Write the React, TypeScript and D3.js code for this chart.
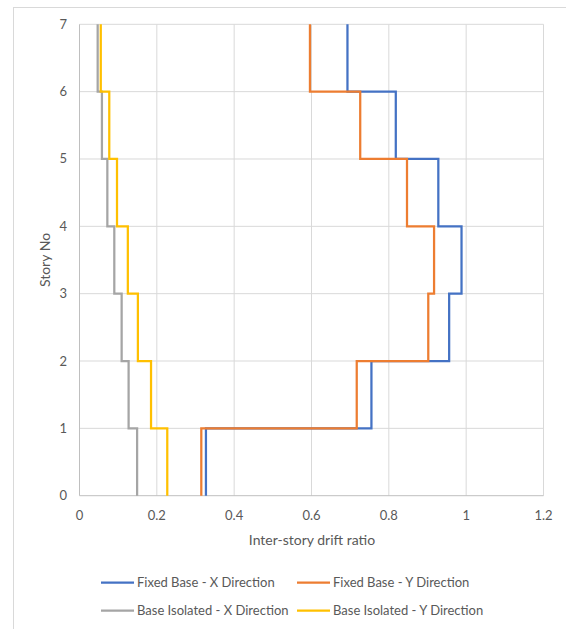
import { useEffect, useRef } from 'react';
import * as d3 from 'd3';

// drift ratio per story segment (story i -> i+1)
const stories = [0, 1, 2, 3, 4, 5, 6, 7];
const xTicks = [0, 0.2, 0.4, 0.6, 0.8, 1, 1.2];
const fixedX = [0.327, 0.755, 0.956, 0.988, 0.928, 0.818, 0.693];
const fixedY = [0.315, 0.717, 0.902, 0.917, 0.847, 0.726, 0.596];
const isoX = [0.149, 0.127, 0.109, 0.090, 0.072, 0.058, 0.047];
const isoY = [0.227, 0.185, 0.151, 0.125, 0.097, 0.077, 0.055];

const seriesNames = [
  'Fixed Base - X Direction',
  'Fixed Base - Y Direction',
  'Base Isolated - X Direction',
  'Base Isolated - Y Direction',
];
const seriesColors = ['#4472C4', '#ED7D31', '#A5A5A5', '#FFC000'];
const seriesValues = [fixedX, fixedY, isoX, isoY];

const W = 566;
const H = 629;
const FONT = 'Lato, "Open Sans", "Liberation Sans", sans-serif';

const App = () => {
  const svgRef = useRef<SVGSVGElement>(null);

  useEffect(() => {
    if (!svgRef.current) return;
    const svg = d3.select(svgRef.current);
    svg.selectAll('*').remove();

    // chart border
    svg.append('rect')
      .attr('x', 13.5).attr('y', 7.5)
      .attr('width', 600).attr('height', 700)
      .attr('fill', 'white')
      .attr('stroke', '#d9d9d9');

    const x = d3.scaleLinear().domain([0, 1.2]).range([79.5, 543.5]);
    const y = d3.scaleLinear().domain([0, 7]).range([495.7, 24.3]);

    // gridlines
    svg.append('g').selectAll('line.vg')
      .data(xTicks.slice(1))
      .enter().append('line')
      .attr('x1', d => x(d)).attr('x2', d => x(d))
      .attr('y1', y(0)).attr('y2', y(7))
      .attr('stroke', '#d9d9d9').attr('stroke-width', 1);

    svg.append('g').selectAll('line.hg')
      .data(stories.slice(1))
      .enter().append('line')
      .attr('x1', x(0)).attr('x2', x(1.2))
      .attr('y1', d => y(d)).attr('y2', d => y(d))
      .attr('stroke', '#d9d9d9').attr('stroke-width', 1);

    // axis lines
    svg.append('line')
      .attr('x1', x(0)).attr('x2', x(1.2))
      .attr('y1', y(0)).attr('y2', y(0))
      .attr('stroke', '#bfbfbf');
    svg.append('line')
      .attr('x1', x(0)).attr('x2', x(0))
      .attr('y1', y(0)).attr('y2', y(7))
      .attr('stroke', '#bfbfbf');

    // tick labels
    svg.append('g').selectAll('text')
      .data(xTicks)
      .enter().append('text')
      .attr('x', d => x(d))
      .attr('y', 520)
      .attr('text-anchor', 'middle')
      .attr('font-family', FONT)
      .attr('font-size', 13)
      .attr('fill', '#595959')
      .text(d => String(d));

    svg.append('g').selectAll('text')
      .data(stories)
      .enter().append('text')
      .attr('x', 67)
      .attr('y', d => y(d) + 4.5)
      .attr('text-anchor', 'end')
      .attr('font-family', FONT)
      .attr('font-size', 13)
      .attr('fill', '#595959')
      .text(d => String(d));

    // axis titles
    svg.append('text')
      .attr('x', 312).attr('y', 545)
      .attr('text-anchor', 'middle')
      .attr('font-family', FONT)
      .attr('font-size', 14)
      .attr('fill', '#595959')
      .text('Inter-story drift ratio');

    svg.append('text')
      .attr('transform', `translate(50,${260}) rotate(-90)`)
      .attr('text-anchor', 'middle')
      .attr('font-family', FONT)
      .attr('font-size', 14)
      .attr('fill', '#595959')
      .text('Story No');

    // step lines
    const line = d3.line<[number, number]>()
      .x(d => x(d[0]))
      .y(d => y(d[1]));

    seriesValues.forEach((vals, i) => {
      const pts: [number, number][] = [];
      vals.forEach((v, s) => {
        pts.push([v, stories[s]]);
        pts.push([v, stories[s + 1]]);
      });
      svg.append('path')
        .datum(pts)
        .attr('d', line)
        .attr('fill', 'none')
        .attr('stroke', seriesColors[i])
        .attr('stroke-width', 2.25)
        .attr('stroke-linejoin', 'miter');
    });

    // legend
    const legendPos = [
      [101, 582.5], [297, 582.5],
      [101, 610.5], [297, 610.5],
    ];
    seriesNames.forEach((name, i) => {
      const [lx, ly] = legendPos[i];
      svg.append('line')
        .attr('x1', lx).attr('x2', lx + 33)
        .attr('y1', ly).attr('y2', ly)
        .attr('stroke', seriesColors[i])
        .attr('stroke-width', 2.25);
      svg.append('text')
        .attr('x', lx + 36).attr('y', ly + 4.5)
        .attr('font-family', FONT)
        .attr('font-size', 13)
        .attr('fill', '#595959')
        .text(name);
    });
  }, []);

  return (
    <svg
      ref={svgRef}
      width={W}
      height={H}
      style={{ position: 'absolute', left: 0, top: 0, background: 'white' }}
    />
  );
};

export default App;
